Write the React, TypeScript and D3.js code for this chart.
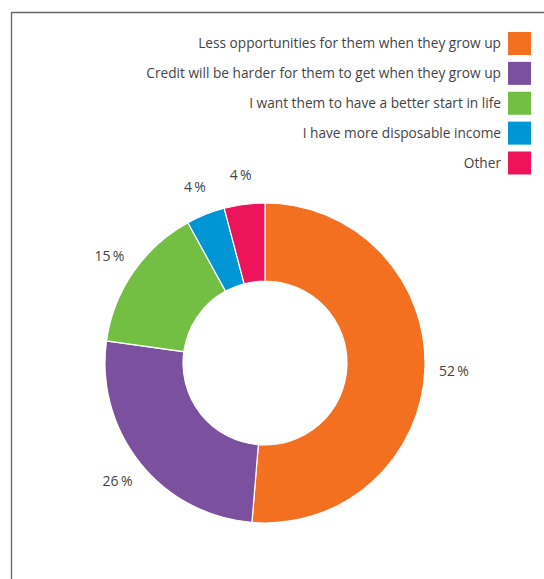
import React from "react";
import * as d3 from "d3";

const categories = [
  "Less opportunities for them when they grow up",
  "Credit will be harder for them to get when they grow up",
  "I want them to have a better start in life",
  "I have more disposable income",
  "Other",
];
const values = [51.3, 25.9, 14.8, 3.9, 4.1];
const labels = ["52\u2009%", "26\u2009%", "15\u2009%", "4\u2009%", "4\u2009%"];
const colors = ["#F37021", "#7B519F", "#72BF44", "#0096D6", "#ED145B"];

const W = 544;
const H = 579;
const FONT = "'Open Sans', 'Noto Sans', sans-serif";

export default function App() {
  const cx = 265;
  const cy = 363;
  const R = 160;
  const r = 82;
  const pie = d3.pie<number>().sort(null).value((d) => d)(values);
  const arc = d3.arc<d3.PieArcDatum<number>>().innerRadius(r).outerRadius(R);
  const labelArc = d3
    .arc<d3.PieArcDatum<number>>()
    .innerRadius(R + 29)
    .outerRadius(R + 29);

  const legendY = d3
    .scalePoint<string>()
    .domain(categories)
    .range([43.5, 163]);

  return (
    <svg
      width={W}
      height={H}
      style={{ position: "absolute", left: 0, top: 0, background: "#fff" }}
      fontFamily={FONT}
    >
      <line x1={11.5} y1={12.5} x2={W} y2={12.5} stroke="#666" strokeWidth={1.3} />
      <line x1={11.5} y1={12} x2={11.5} y2={H} stroke="#666" strokeWidth={1.3} />
      <g>
        {categories.map((c, i) => (
          <g key={c} transform={`translate(0,${legendY(c)})`}>
            <text
              x={501}
              y={0}
              dy="0.35em"
              textAnchor="end"
              fontSize={13.7}
              fill="#444"
            >
              {c}
            </text>
            <rect x={508} y={-11.5} width={23} height={23} fill={colors[i]} />
          </g>
        ))}
      </g>
      <g transform={`translate(${cx},${cy})`}>
        {pie.map((p, i) => (
          <path key={i} d={arc(p) || ""} fill={colors[i]} stroke="#fff" strokeWidth={1.2} />
        ))}
        {pie.map((p, i) => {
          const [x, y] = labelArc.centroid(p);
          return (
            <text
              key={i}
              x={x}
              y={y}
              dy="0.35em"
              textAnchor="middle"
              fontSize={14}
              fill="#444"
            >
              {labels[i]}
            </text>
          );
        })}
      </g>
    </svg>
  );
}
